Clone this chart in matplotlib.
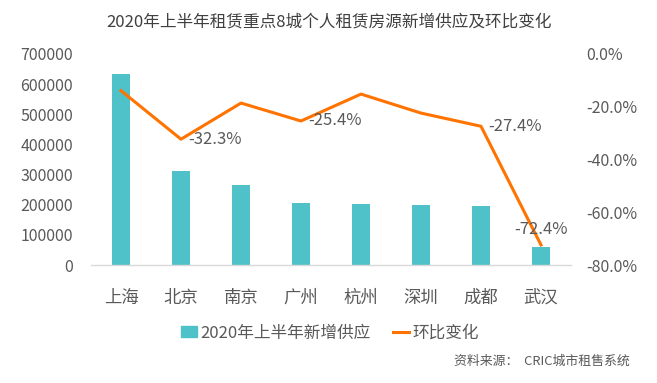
import numpy as np
import matplotlib
matplotlib.use("Agg")
import matplotlib.pyplot as plt
from matplotlib.lines import Line2D
from matplotlib.patches import Patch

plt.rcParams['font.family'] = ['Noto Sans CJK SC', 'DejaVu Sans']

# data
cities = ["上海", "北京", "南京", "广州", "杭州", "深圳", "成都", "武汉"]
supply = [634000, 312000, 264000, 205000, 201000, 198000, 196000, 61000]
change = [-13.9, -32.3, -18.6, -25.4, -15.2, -22.4, -27.4, -72.4]
labelled = {1: "-32.3%", 3: "-25.4%", 6: "-27.4%", 7: "-72.4%"}

left_ticks = [0, 100000, 200000, 300000, 400000, 500000, 600000, 700000]
right_ticks = [0, -20, -40, -60, -80]

bar_color = "#4FC1C8"
line_color = "#FF7300"
text_color = "#595959"

fig = plt.figure(figsize=(6.57, 3.83), dpi=100)
ax = fig.add_axes([91/657, 118/383, 480/657, 211/383])
x = np.arange(len(cities))

ax.bar(x, supply, width=0.3, color=bar_color, zorder=2)
ax.set_xlim(-0.5, len(cities) - 0.5)
ax.set_ylim(0, 700000)
ax.set_yticks(left_ticks)
ax.set_yticklabels([str(v) for v in left_ticks])
ax.set_xticks(x)
ax.set_xticklabels(cities, fontsize=12.5, color=text_color)
ax.tick_params(axis="y", length=0, labelsize=11.5, labelcolor=text_color, pad=13)
ax.tick_params(axis="x", length=0, pad=17)
for s in ["top", "right", "left"]:
    ax.spines[s].set_visible(False)
ax.spines["bottom"].set_color("#D9D9D9")
ax.spines["bottom"].set_linewidth(1)

ax2 = ax.twinx()
ax2.plot(x, change, color=line_color, linewidth=2.2, zorder=3)
ax2.set_ylim(-80, 0)
ax2.set_yticks(right_ticks)
ax2.set_yticklabels(["%.1f%%" % v for v in right_ticks])
ax2.tick_params(axis="y", length=0, labelsize=11.5, labelcolor=text_color, pad=11)
for s in ["top", "right", "left", "bottom"]:
    ax2.spines[s].set_visible(False)

for i, txt in labelled.items():
    if i == len(cities) - 1:
        ax2.annotate(txt, (x[i], change[i]), xytext=(0, 5), textcoords="offset points",
                     ha="center", va="bottom", fontsize=12, color=text_color)
    else:
        ax2.annotate(txt, (x[i], change[i]), xytext=(5, 0), textcoords="offset points",
                     ha="left", va="center", fontsize=12, color=text_color)

fig.text(329/657, 1 - 22/383, "2020年上半年租赁重点8城个人租赁房源新增供应及环比变化",
         ha="center", va="center", fontsize=12, color="#404040")

handles = [Patch(color=bar_color), Line2D([0], [0], color=line_color, linewidth=2.2)]
fig.legend(handles, ["2020年上半年新增供应", "环比变化"], loc="center",
           bbox_to_anchor=(330/657, 1 - 333/383), ncol=2, frameon=False,
           fontsize=12, labelcolor=text_color, handlelength=1.0, handleheight=0.6,
           handletextpad=0.2, columnspacing=1.3)

fig.text(630/657, 1 - 361/383, "资料来源：  CRIC城市租售系统", ha="right", va="center",
         fontsize=9.3, color=text_color)

fig.savefig("out.png", dpi=100)
